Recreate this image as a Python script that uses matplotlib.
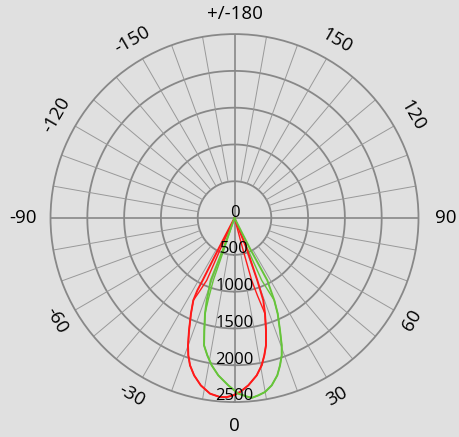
import numpy as np
import matplotlib
matplotlib.use("Agg")
import matplotlib.pyplot as plt

plt.rcParams['font.family'] = ['Open Sans', 'DejaVu Sans']

# radial scale (cd) and angle labels
r_ticks = [0, 500, 1000, 1500, 2000, 2500]
angle_ticks = [0, 30, 60, 90, 120, 150, 180, -150, -120, -90, -60, -30]
angle_labels = ["0", "30", "60", "90", "120", "150", "+/-180",
                "-150", "-120", "-90", "-60", "-30"]

# red curve, angle (deg) -> intensity (cd)
red_ang = [-28, -27.5, -27.1, -27.2, -26.6, -24.5, -22.05, -20.07, -18.6, -16.8, -14.4,
           -11.4, -7.94, -4.63, -2.5, -0.39, 1.81, 4.72, 8.03, 10.46, 12.25, 13.9,
           15.67, 17.7, 19.28, 20.1, 21.7, 23]
red_val = [0, 460, 950, 1105, 1250, 1427, 1646, 1841, 1968, 2091, 2207,
           2319, 2409, 2440, 2435, 2409, 2365, 2281, 2159, 2035, 1909, 1781,
           1585, 1363, 1185, 901, 448, 0]
# red, second plane (narrower near the source)
red2_ang = [-25, -24.5, -24.05, -25.5, -26.6, -24.5, -22.05, -20.07, -18.6, -16.8, -14.4,
            -11.4, -7.94, -4.63, -2.5, -0.39, 1.81, 4.72, 8.03, 10.46, 12.25, 13.9,
            15.67, 17.7, 16.5, 15.4, 15, 14.5]
red2_val = [0, 450, 927, 1100, 1250, 1427, 1646, 1841, 1968, 2091, 2207,
            2319, 2409, 2440, 2435, 2409, 2365, 2281, 2159, 2035, 1909, 1781,
            1585, 1363, 1100, 878, 450, 0]

# green curve
green_ang = [-21, -20.1, -20.9, -18.66, -17.15, -15.05, -13.47, -11.2, -8.8, -5.88,
             -2.12, 1.24, 4.41, 5.56, 7.65, 9.94, 12.54, 15.22, 17.17, 18.97, 20.34,
             22.05, 24.32, 25.8, 27.76, 26.9, 29]
green_val = [0, 443, 906, 1180, 1359, 1580, 1778, 1902, 2025, 2149,
             2275, 2386, 2439, 2454, 2431, 2400, 2329, 2215, 2095, 1973, 1845,
             1646, 1425, 1242, 957, 466, 0]
# green, second plane
green2_ang = [-19, -18.5, -18.8, -17.9, -17.15, -15.05, -13.47, -11.2, -8.8, -5.88,
              -2.12, 1.24, 4.41, 5.56, 7.65, 9.94, 12.54, 15.22, 17.17, 18.97, 20.34,
              22.05, 24.32, 25.8, 23.6, 23, 22.5]
green2_val = [0, 450, 894, 1150, 1359, 1580, 1778, 1902, 2025, 2149,
              2275, 2386, 2439, 2454, 2431, 2400, 2329, 2215, 2095, 1973, 1845,
              1646, 1425, 1242, 924, 450, 0]

bg = "#e0e0e0"
fig = plt.figure(figsize=(4.6, 4.37), dpi=100, facecolor=bg)
ax = fig.add_axes([0.1098, 0.080, 0.80, 0.842], projection='polar')
ax.set_facecolor(bg)
ax.set_theta_zero_location('S')
ax.set_theta_direction(1)
ax.set_ylim(0, 2500)
ax.grid(False)
ax.set_xticks([])
ax.set_yticks([])
ax.spines['polar'].set_color('#888888')
ax.spines['polar'].set_linewidth(1.3)

full = np.linspace(0, 2 * np.pi, 361)
for r in r_ticks[1:-1]:
    ax.plot(full, np.full_like(full, r), color='#888888', lw=1.3, zorder=1)

# spokes every 10 degrees, from inner ring outward
for a in range(0, 360, 10):
    t = np.deg2rad(a)
    if a % 90 == 0:
        ax.plot([t, t], [0, 2500], color='#888888', lw=1.2, zorder=1)
    else:
        ax.plot([t, t], [500, 2500], color='#999999', lw=0.7, zorder=1)

red = '#ff1a1a'
green = '#66c43a'
ax.plot(np.deg2rad(red2_ang), red2_val, color=red, lw=1.0, zorder=3)
ax.plot(np.deg2rad(green2_ang), green2_val, color=green, lw=1.0, zorder=3)
ax.plot(np.deg2rad(red_ang), red_val, color=red, lw=1.4, zorder=3)
ax.plot(np.deg2rad(green_ang), green_val, color=green, lw=1.4, zorder=3)

# radial labels along the bottom axis
for r in r_ticks:
    ax.annotate(str(r), xy=(0, r), xytext=(0, 4), textcoords='offset points',
                ha='center', va='center', fontsize=12, zorder=4)

# angle labels, rotated along the circle
for a, lab in zip(angle_ticks, angle_labels):
    rot = a % 180
    if rot > 90:
        rot -= 180
    rad = 2790
    if a % 90 == 0:
        rot = 0
        rad = 2870 if abs(a) == 90 else (2820 if a == 0 else 2770)
    ax.text(np.deg2rad(a), rad, lab, ha='center', va='center', fontsize=13.5,
            rotation=rot, rotation_mode='anchor', clip_on=False)

fig.savefig("out.png", dpi=100, facecolor=bg)
